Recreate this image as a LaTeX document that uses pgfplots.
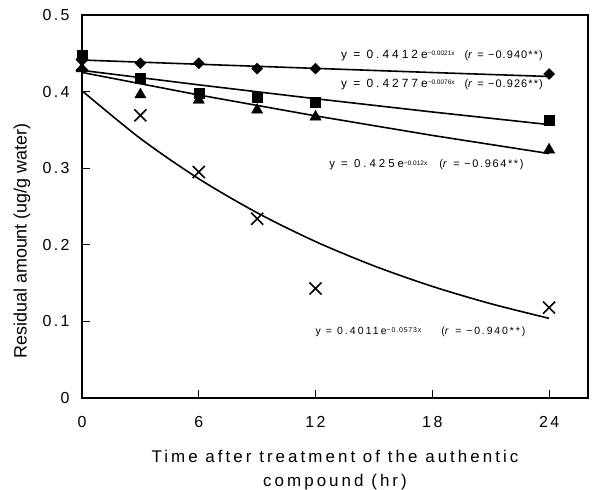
\documentclass[border=0pt]{standalone}
\usepackage{fontspec}
\setmainfont{Liberation Sans}
\usepackage{pgfplots}
\pgfplotsset{compat=1.18}

% parts of a regression label: base, raised exponent, correlation
\newcommand{\eqB}[3]{{\fontsize{#1}{#1}\selectfont\addfontfeature{LetterSpace=#2}#3}}
\newcommand{\eqE}[3]{\raisebox{0.55ex}{\fontsize{#1}{#1}\selectfont\addfontfeature{LetterSpace=#2}#3}}
\newcommand{\eqR}[3]{{\fontsize{#1}{#1}\selectfont\addfontfeature{LetterSpace=#2}#3}}

\begin{document}
\begin{tikzpicture}
\begin{axis}[
  name=ax,
  scale only axis, width=506bp, height=383bp,
  xmin=0, xmax=26, ymin=0, ymax=0.5,
  xtick={0,6,12,18,24}, xticklabels={0,6,12,18,24},
  ytick={0,0.1,0.2,0.3,0.4,0.5}, yticklabels={0,0.1,0.2,0.3,0.4,0.5},
  tick pos=left, tick align=inside, major tick length=8bp,
  axis line style={line width=1.4bp},
  every tick/.style={line width=1.1bp, black},
  ticklabel style={font=\fontsize{16}{18}\selectfont\addfontfeature{LetterSpace=15}},
  yticklabel style={xshift=-9bp},
  xticklabel style={yshift=-15bp},
  xlabel={Time after treatment of the authentic\\compound (hr)},
  xlabel style={at={(rel axis cs:0.5,0)}, anchor=north, yshift=-49bp, align=center,
    font=\fontsize{17}{24}\selectfont\addfontfeature{LetterSpace=18}},
  ylabel={Residual amount (ug/g water)},
  ylabel style={at={(rel axis cs:-0.1186,0.41)}, anchor=center,
    font=\fontsize{18}{20}\selectfont},
  clip=false,
]
% fitted exponential decay curves
\addplot[black, line width=1.6bp] coordinates {(0,0.4412) (6,0.4357) (12,0.4303) (18,0.4249) (24,0.4197)};
\addplot[black, line width=1.6bp] coordinates {(0,0.4277) (6,0.4088) (12,0.3907) (18,0.3734) (24,0.3569)};
\addplot[black, line width=1.6bp] coordinates {(0,0.4250) (6,0.3956) (12,0.3683) (18,0.3428) (24,0.3191)};
\addplot[black, line width=1.6bp, smooth] coordinates {(0,0.4011) (3,0.3388) (6,0.2862) (9,0.2418) (12,0.2042) (15,0.1725) (18,0.1457) (21,0.1231) (24,0.1040)};

% observed residues
\addplot[only marks, mark=square*, mark size=3.9bp, mark options={rotate=45, fill=black}] coordinates {(0,0.441) (3,0.437) (6,0.437) (9,0.430) (12,0.430) (24,0.423)};
\addplot[only marks, mark=triangle*, mark size=6.5bp, mark options={fill=black}] coordinates {(0,0.430) (3,0.396) (6,0.389) (9,0.376) (12,0.367) (24,0.324)};
\addplot[only marks, mark=square*, mark size=5bp, mark options={fill=black}] coordinates {(0,0.447) (3,0.418) (6,0.398) (9,0.393) (12,0.386) (24,0.363)};
\addplot[only marks, mark=x, mark size=8.5bp, mark options={line width=1.6bp}] coordinates {(0,0.435) (3,0.369) (6,0.295) (9,0.234) (12,0.143) (24,0.118)};

% regression equations
\node[anchor=west, inner sep=0] at (axis cs:13.3,0.447)
  {\eqB{12}{25}{y = 0.4412e}\eqE{6.5}{0}{−0.0021x}\hspace{10bp}\eqR{11}{10}{(\textit{r} = −0.940**)}};
\node[anchor=west, inner sep=0] at (axis cs:13.3,0.409)
  {\eqB{12}{25}{y = 0.4277e}\eqE{6.5}{0}{−0.0076x}\hspace{10bp}\eqR{11}{10}{(\textit{r} = −0.926**)}};
\node[anchor=west, inner sep=0] at (axis cs:12.7,0.304)
  {\eqB{11.5}{26}{y = 0.425e}\eqE{6.5}{0}{−0.012x}\hspace{12bp}\eqR{11}{15}{(\textit{r} = −0.964**)}};
\node[anchor=west, inner sep=0] at (axis cs:12.0,0.086)
  {\eqB{10.5}{20}{y = 0.4011e}\eqE{7}{12}{−0.0573x}\hspace{20bp}\eqR{10.5}{18}{(\textit{r} = −0.940**)}};
\end{axis}
\pgfresetboundingbox
\path ([xshift=-82bp,yshift=-92bp]ax.south west) rectangle ([xshift=5bp,yshift=15bp]ax.north east);
\end{tikzpicture}
\end{document}
